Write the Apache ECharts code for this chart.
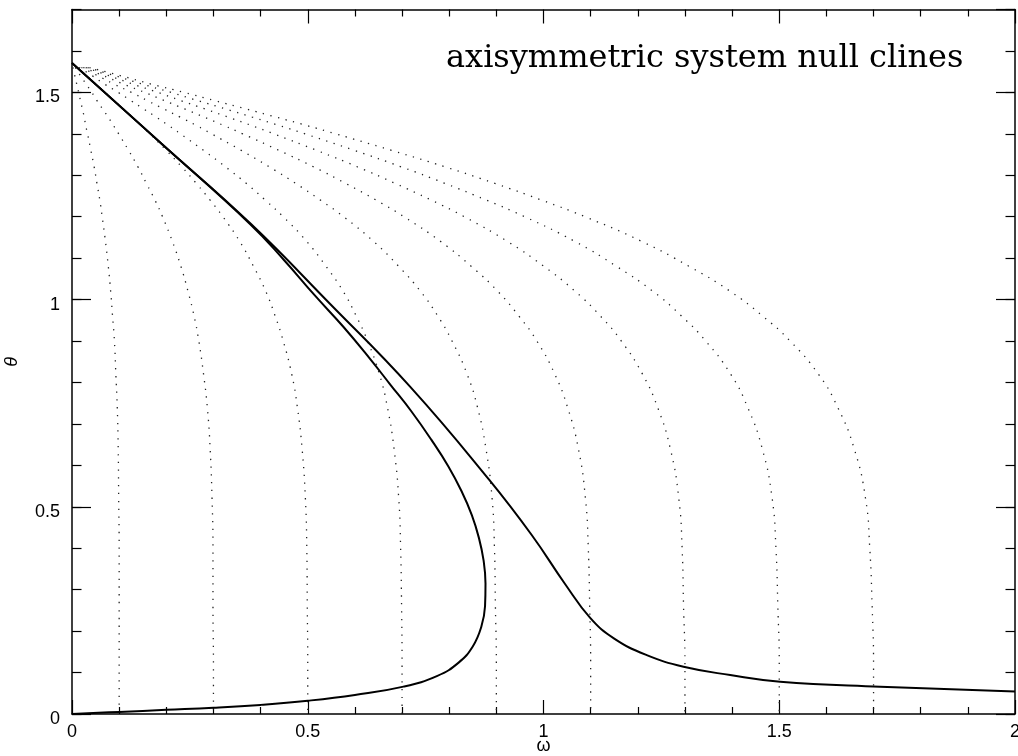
<!DOCTYPE html>
<html>
<head>
<meta charset="utf-8">
<title>axisymmetric system null clines</title>
<script src="https://cdn.jsdelivr.net/npm/echarts/dist/echarts.min.js"></script>
<style>
  html, body { margin: 0; padding: 0; background: #fff; }
  #chart { width: 1018px; height: 756px; }
</style>
</head>
<body>
<div id="chart"></div>
<script>
// theta values at which the dotted curves were read
var thetaLevels = [1.56, 1.54, 1.52, 1.50, 1.48, 1.46, 1.44, 1.42, 1.40, 1.36, 1.32, 1.28, 1.24,
  1.20, 1.14, 1.08, 1.02, 0.96, 0.90, 0.82, 0.74, 0.64, 0.52, 0.40, 0.26, 0.12, 0];

// dotted curves, omega at each theta level (named by where they meet theta = 0)
var dotted01 = [0.002, 0.006, 0.010, 0.014, 0.018, 0.022, 0.026, 0.029, 0.033, 0.040, 0.047, 0.053, 0.059,
  0.064, 0.071, 0.077, 0.082, 0.086, 0.090, 0.093, 0.096, 0.098, 0.099, 0.100, 0.100, 0.100, 0.100];
var dotted03 = [0.007, 0.018, 0.030, 0.042, 0.053, 0.065, 0.077, 0.088, 0.099, 0.120, 0.140, 0.158, 0.176,
  0.192, 0.213, 0.231, 0.246, 0.259, 0.269, 0.279, 0.287, 0.293, 0.297, 0.299, 0.299, 0.300, 0.300];
var dotted05 = [0.011, 0.031, 0.050, 0.070, 0.089, 0.109, 0.128, 0.147, 0.165, 0.200, 0.233, 0.264, 0.293,
  0.320, 0.356, 0.385, 0.411, 0.431, 0.448, 0.466, 0.478, 0.488, 0.495, 0.498, 0.499, 0.500, 0.500];
var dotted07 = [0.015, 0.043, 0.069, 0.098, 0.125, 0.152, 0.179, 0.205, 0.230, 0.279, 0.326, 0.370, 0.410,
  0.448, 0.498, 0.539, 0.575, 0.603, 0.627, 0.652, 0.669, 0.683, 0.693, 0.697, 0.699, 0.700, 0.700];
var dotted09 = [0.020, 0.055, 0.089, 0.126, 0.160, 0.195, 0.230, 0.264, 0.296, 0.359, 0.419, 0.475, 0.527,
  0.576, 0.640, 0.693, 0.739, 0.776, 0.806, 0.838, 0.860, 0.878, 0.891, 0.896, 0.898, 0.900, 0.900];
var dotted11 = [0.024, 0.067, 0.109, 0.154, 0.196, 0.239, 0.281, 0.322, 0.362, 0.439, 0.513, 0.581, 0.645,
  0.704, 0.782, 0.847, 0.903, 0.948, 0.986, 1.024, 1.051, 1.074, 1.089, 1.095, 1.098, 1.100, 1.100];
var dotted13 = [0.029, 0.079, 0.129, 0.182, 0.231, 0.282, 0.332, 0.381, 0.428, 0.519, 0.606, 0.686, 0.762,
  0.832, 0.924, 1.001, 1.067, 1.121, 1.165, 1.210, 1.242, 1.269, 1.287, 1.294, 1.297, 1.300, 1.300];
var dotted15 = [0.033, 0.092, 0.149, 0.210, 0.267, 0.326, 0.383, 0.440, 0.494, 0.599, 0.699, 0.792, 0.879,
  0.960, 1.067, 1.155, 1.232, 1.293, 1.344, 1.397, 1.433, 1.464, 1.485, 1.493, 1.497, 1.500, 1.500];
var dotted17 = [0.037, 0.104, 0.168, 0.238, 0.303, 0.369, 0.434, 0.498, 0.559, 0.678, 0.792, 0.898, 0.996,
  1.088, 1.209, 1.309, 1.396, 1.465, 1.523, 1.583, 1.624, 1.659, 1.683, 1.692, 1.697, 1.700, 1.700];

// solid null cline folding back to the origin
var foldOmega = [0, 0.190, 0.378, 0.450, 0.515, 0.575, 0.630, 0.675, 0.720, 0.762, 0.798, 0.826, 0.848,
  0.863, 0.873, 0.877, 0.876, 0.868, 0.850, 0.820, 0.775, 0.703, 0.600, 0.500, 0.400, 0.300, 0.200,
  0.100, 0];
var foldTheta = [1.571, 1.376, 1.182, 1.095, 1.010, 0.935, 0.860, 0.795, 0.730, 0.662, 0.598, 0.538, 0.480,
  0.425, 0.370, 0.315, 0.260, 0.210, 0.163, 0.124, 0.092, 0.066, 0.046, 0.032, 0.022, 0.015, 0.010,
  0.005, 0];

// solid null cline running out to omega = 2
var outerOmega = [0, 0.190, 0.378, 0.547, 0.717, 0.885, 0.975, 1.045, 1.099, 1.150, 1.219, 1.297, 1.396,
  1.502, 1.714, 2.000];
var outerTheta = [1.571, 1.376, 1.184, 0.990, 0.790, 0.565, 0.432, 0.315, 0.232, 0.182, 0.142, 0.114, 0.094,
  0.078, 0.066, 0.054];

var dottedCurves = [dotted01, dotted03, dotted05, dotted07, dotted09, dotted11, dotted13, dotted15, dotted17];

function pairs(xs, ys) {
  return xs.map(function (x, i) { return [x, ys[i]]; });
}

var series = [];
dottedCurves.forEach(function (omega) {
  series.push({
    type: "line",
    data: pairs(omega, thetaLevels),
    showSymbol: false,
    smooth: true,
    silent: true,
    z: 1,
    lineStyle: { color: "#222", width: 1.3, type: [1.3, 6.5] }
  });
});
[[foldOmega, foldTheta], [outerOmega, outerTheta]].forEach(function (c) {
  series.push({
    type: "line",
    data: pairs(c[0], c[1]),
    showSymbol: false,
    smooth: 0.45,
    silent: true,
    z: 3,
    lineStyle: { color: "#000", width: 2 }
  });
});

var labelFont = "Liberation Sans";
var black = "#000";

function xAxisCfg(pos, labels) {
  return {
    type: "value",
    position: pos,
    min: 0,
    max: 2,
    interval: 0.5,
    name: labels ? "ω" : "",
    nameLocation: "middle",
    nameGap: 23,
    nameMoveOverlap: false,
    nameTextStyle: { fontSize: 18, color: black, fontFamily: labelFont },
    axisLine: { onZero: false, lineStyle: { color: black, width: 1.5 } },
    axisTick: { inside: true, length: 14, lineStyle: { color: black, width: 1.2 } },
    minorTick: { show: true, splitNumber: 5, length: 7, lineStyle: { color: black, width: 1.2 } },
    splitLine: { show: false },
    axisLabel: { show: labels, margin: 9, fontSize: 18, color: black, fontFamily: labelFont }
  };
}

function yAxisCfg(pos, interval, tickLen, labels) {
  return {
    type: "value",
    position: pos,
    min: 0,
    max: 1.7,
    interval: interval,
    name: labels ? "θ" : "",
    nameLocation: "middle",
    nameGap: 51,
    nameRotate: 90,
    nameMoveOverlap: false,
    nameTextStyle: { fontSize: 18, color: black, fontFamily: labelFont, fontStyle: "italic" },
    axisLine: { show: interval === 0.5, onZero: false, lineStyle: { color: black, width: 1.5 } },
    axisTick: { inside: true, length: tickLen, lineStyle: { color: black, width: 1.2 } },
    splitLine: { show: false },
    axisLabel: {
      show: labels,
      showMaxLabel: false,
      margin: 12,
      verticalAlign: "top",
      lineHeight: 10,
      fontSize: 18,
      color: black,
      fontFamily: labelFont
    }
  };
}

var chart = echarts.init(document.getElementById("chart"));
chart.setOption({
  animation: false,
  backgroundColor: "#fff",
  title: {
    text: "axisymmetric system null clines",
    left: 446,
    top: 43,
    padding: 0,
    textStyle: { fontFamily: "DejaVu Serif", fontSize: 32, fontWeight: "normal", color: black }
  },
  grid: { left: 72, right: 3, top: 9.5, bottom: 42, containLabel: false, outerBoundsMode: "none" },
  xAxis: [xAxisCfg("bottom", true), xAxisCfg("top", false)],
  yAxis: [
    yAxisCfg("left", 0.5, 19, true),
    yAxisCfg("left", 0.1, 9.5, false),
    yAxisCfg("right", 0.5, 19, false),
    yAxisCfg("right", 0.1, 9.5, false)
  ],
  series: series
});
</script>
</body>
</html>
